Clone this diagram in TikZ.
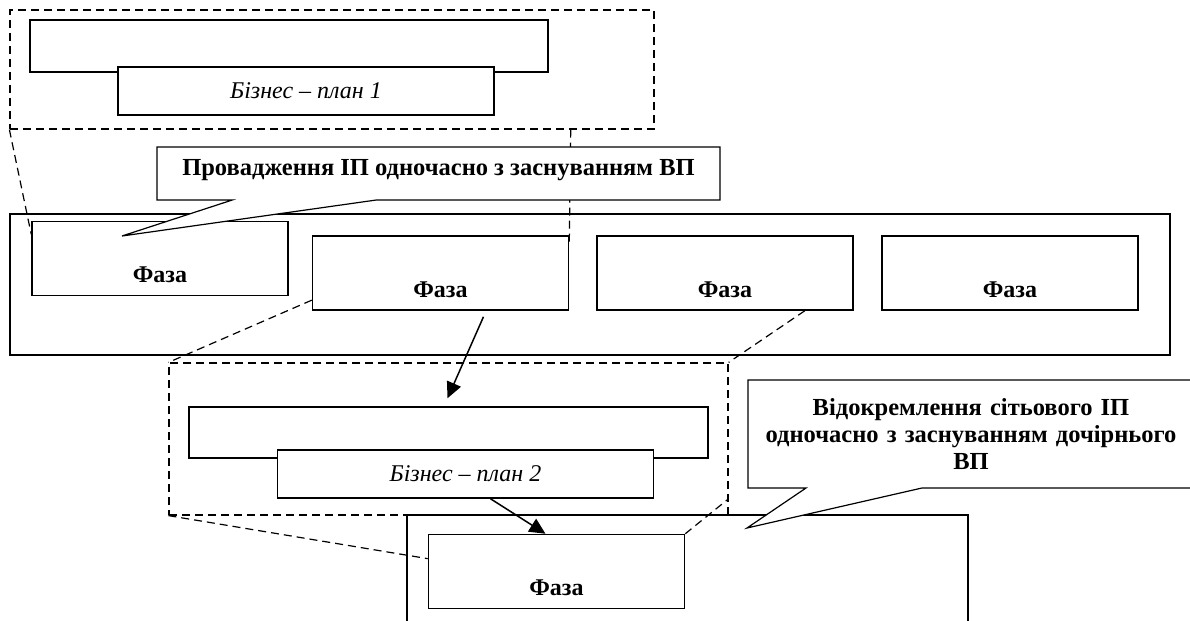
\documentclass[tikz,border=0pt]{standalone}
\usepackage{fontspec}
\setmainfont{Liberation Serif}
\usetikzlibrary{shapes.callouts, arrows.meta, calc}
\tikzset{
  boxAll/.style={draw, line width=0.75pt, fill=white, inner sep=0pt},
  barBox/.style={line width=1pt},
  phaseBox/.style={minimum width=128pt, minimum height=37pt, text height=26pt, text depth=2pt, font=\bfseries\fontsize{12}{14}\selectfont},
  planBox/.style={minimum width=188pt, minimum height=24pt, font=\itshape\fontsize{12}{14}\selectfont},
  frameDash/.style={draw, line width=0.6pt, dash pattern=on 4pt off 2.5pt, inner sep=0pt},
  linkDash/.style={line width=0.6pt, dash pattern=on 4pt off 2.5pt},
  linkArrow/.style={line width=0.75pt, -{Triangle[length=8pt, width=7.5pt]}},
  noteBox/.style={rectangle callout, draw, fill=white, line width=0.6pt, inner sep=0pt, font=\bfseries\fontsize{12.25}{13.3}\selectfont}
}
\begin{document}
\begin{tikzpicture}[x=0.5pt, y=-0.5pt]
  \useasboundingbox (0,0) rectangle (1190,621);
  \clip (0,0) rectangle (1190,621);

  \node[boxAll, barBox, minimum width=580pt, minimum height=70.5pt] (BAR0) at (590,284.5) {};
  \node[boxAll, phaseBox] (PH1) at (160,258.5) {Фаза};
  \node[boxAll, phaseBox] (PH2) at (440.5,273) {Фаза};
  \node[boxAll, phaseBox] (PH3) at (725,273) {Фаза};
  \node[boxAll, phaseBox] (PH4) at (1010,273) {Фаза};

  \node[frameDash, minimum width=322pt, minimum height=59.5pt] (PF1) at (332,69.5) {};
  \node[boxAll, minimum width=259pt, minimum height=26pt] (BAR1) at (289,46) {};
  \node[boxAll, planBox] (BP1) at (306,91) {Бізнес – план 1};

  \node[frameDash, minimum width=279.5pt, minimum height=76pt] (PF2) at (448.5,439) {};
  \node[boxAll, minimum width=259.5pt, minimum height=25.5pt] (BAR2) at (448.5,432.5) {};
  \node[boxAll, planBox] (BP2) at (465.5,474) {Бізнес – план 2};

  \node[boxAll, barBox, minimum width=280.5pt, minimum height=62.5pt] (BAR3) at (687.5,577.5) {};
  \node[boxAll, phaseBox] (PH5) at (556.5,571.5) {Фаза};

  \path[linkDash]
    (PF1.south west) edge ($(PH1.north west)!0.18!(PH1.south west)$)
    ($(PF1.south west)!0.87!(PF1.south east)$) edge ($(PH2.north east)!0.15!(PH2.south east)$)
    ($(PH2.north west)!0.86!(PH2.south west)$) edge (PF2.north west)
    ($(PH3.south west)!0.81!(PH3.south east)$) edge (PF2.north east)
    (PF2.south west) edge ($(PH5.north west)!0.33!(PH5.south west)$)
    (PH5.north east) edge ($(PF2.north east)!0.89!(PF2.south east)$);

  \path[linkArrow]
    ($(PH2.south)+(43,6)$) edge ($(BAR2.north)+(-1,-8)$)
    ($(BP2.south)+(25,0)$) edge ($(PH5.north)+(-11,0)$);

  \coordinate (TIP1) at (122,236);
  \coordinate (TIP2) at (747,528);
  \node[noteBox, minimum width=281.5pt, minimum height=26.5pt, text height=6pt, text depth=4pt,
    callout absolute pointer={(TIP1)}, callout pointer width=72pt] (NT1) at (438.5,173.5)
    {Провадження ІП одночасно з заснуванням ВП};
  \node[noteBox, minimum width=223pt, minimum height=54pt, text width=215pt, align=center,
    callout absolute pointer={(TIP2)}, callout pointer width=58pt] (NT2) at (971,434)
    {Відокремлення сітьового ІП\\ одночасно з заснуванням дочірнього\\ ВП};
\end{tikzpicture}
\end{document}
